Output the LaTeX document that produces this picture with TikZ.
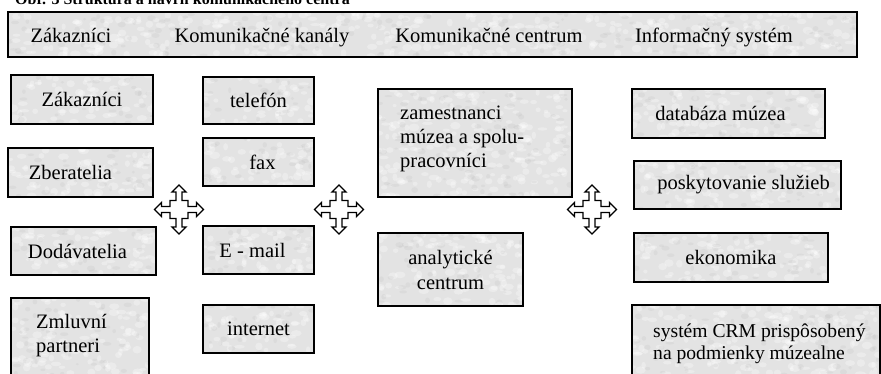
\documentclass[tikz,border=0pt]{standalone}
\usepackage{fontspec}
\setmainfont{Liberation Serif}
\usetikzlibrary{calc}

% soft mottled grey "granite" filling used inside every box
\newcommand\granite{%
  \pgfpointdiff{\pgfpointanchor{path picture bounding box}{south west}}%
               {\pgfpointanchor{path picture bounding box}{north east}}%
  \pgfgetlastxy{\gw}{\gh}%
  \pgfmathtruncatemacro\gn{(\gw/10)*(\gh/10)}%
  \foreach \k in {1,...,\gn}{%
    \fill[white, opacity=.3]
      ($(path picture bounding box.south west)+(rnd*\gw,rnd*\gh)$)
      ellipse[x radius={2pt+rnd*3.5pt}, y radius={1.5pt+rnd*2.5pt}];
  }%
  \pgfmathtruncatemacro\gm{\gn/2}%
  \foreach \k in {1,...,\gm}{%
    \fill[black!40, opacity=.1]
      ($(path picture bounding box.south west)+(rnd*\gw,rnd*\gh)$)
      ellipse[x radius={1.5pt+rnd*3pt}, y radius={1pt+rnd*2pt}];
  }%
}

\tikzset{
  basefont/.style={font=\fontsize{20.5}{24}\selectfont},
  box/.style={draw=black, line width=1.8pt, fill=black!11, inner sep=0pt,
              path picture={\granite}, basefont},
  txt/.style={inner sep=0pt, basefont},
  arrowline/.style={draw=black, line width=1.4pt, fill=white, line join=miter},
  quadarrow/.pic={
    \draw[arrowline] (0,-24.5) -- (7,-17.5) -- (3,-17.5) -- (3,-9) -- (9,-9)
      -- (9,-3) -- (17.5,-3) -- (17.5,-7) -- (24.5,0) -- (17.5,7) -- (17.5,3)
      -- (9,3) -- (9,9) -- (3,9) -- (3,17.5) -- (7,17.5) -- (0,24.5)
      -- (-7,17.5) -- (-3,17.5) -- (-3,9) -- (-9,9) -- (-9,3) -- (-17.5,3)
      -- (-17.5,7) -- (-24.5,0) -- (-17.5,-7) -- (-17.5,-3) -- (-9,-3)
      -- (-9,-9) -- (-3,-9) -- (-3,-17.5) -- (-7,-17.5) -- cycle;
  }
}

\begin{document}
\begin{tikzpicture}[x=1pt, y=-1pt]
\pgfmathsetseed{4711}
\useasboundingbox (0,0) rectangle (881,374);
\clip (0,0) rectangle (881,374);

% caption line (mostly above the page edge)
\node[inner sep=0pt, anchor=base east, font=\bfseries\fontsize{16}{19}\selectfont]
  (caption) at (350,4.5) {Obr. 3 Štruktúra a návrh komunikačného centra};

% header bar
\node[box, minimum width=849pt, minimum height=45pt] (hdr) at (432.5,34.5) {};
\node[txt, anchor=base] (h1) at (71,43)  {Zákazníci};
\node[txt, anchor=base] (h2) at (262,43) {Komunikačné kanály};
\node[txt, anchor=base] (h3) at (489,43) {Komunikačné centrum};
\node[txt, anchor=base] (h4) at (714,43) {Informačný systém};

% column 1: customers
\node[box, minimum width=142pt, minimum height=49pt] (zak) at (82,99.5) {Zákazníci};
\node[box, minimum width=145pt, minimum height=49pt] (zbe) at (80.5,172.5) {\hspace*{-20pt}Zberatelia};
\node[box, minimum width=145pt, minimum height=48pt] (dod) at (83.5,251) {\hspace*{-12pt}Dodávatelia};
\node[box, minimum width=138pt, minimum height=92pt] (zml) at (80,344) {};
\node[txt, anchor=north west, align=left] (zmlt) at (36,314) {Zmluvní\\partneri};

% column 2: channels
\node[box, minimum width=111pt, minimum height=47pt] (tel) at (258.5,100.5) {telefón};
\node[box, minimum width=111pt, minimum height=48pt] (fax) at (258.5,162) {\hspace*{8pt}fax};
\node[box, minimum width=111pt, minimum height=48pt] (mail) at (258.5,250) {\hspace*{-12pt}E - mail};
\node[box, minimum width=111pt, minimum height=48pt] (inet) at (258.5,329) {internet};

% column 3: communication centre
\node[box, minimum width=194pt, minimum height=108pt] (zam) at (475,143) {};
\node[txt, anchor=north west, align=left] (zamt) at (400,106)
  {zamestnanci\\múzea a spolu-\\pracovníci};
\node[box, minimum width=145pt, minimum height=73pt, align=center,
      font=\fontsize{20.5}{25}\selectfont] (ana) at (450.5,269.5) {analytické\\centrum};

% column 4: information system
\node[box, minimum width=193pt, minimum height=49pt] (dat) at (728.5,113.5) {\hspace*{-16pt}databáza múzea};
\node[box, minimum width=207pt, minimum height=48pt] (pos) at (737.5,185) {\hspace*{12pt}poskytovanie služieb};
\node[box, minimum width=194pt, minimum height=49pt] (eko) at (731,257.5) {ekonomika};
\node[box, minimum width=248pt, minimum height=95pt] (crm) at (756,352.5) {};
\node[txt, anchor=north west, align=left, font=\fontsize{19.6}{22}\selectfont] (crmt) at (653,324)
  {systém CRM prispôsobený\\na podmienky múzealne};

% four-way arrows between the columns
\pic (qa1) at (179,209.5) {quadarrow};
\pic (qa2) at (339,209.5) {quadarrow};
\pic (qa3) at (592,209.5) {quadarrow};
\end{tikzpicture}
\end{document}
